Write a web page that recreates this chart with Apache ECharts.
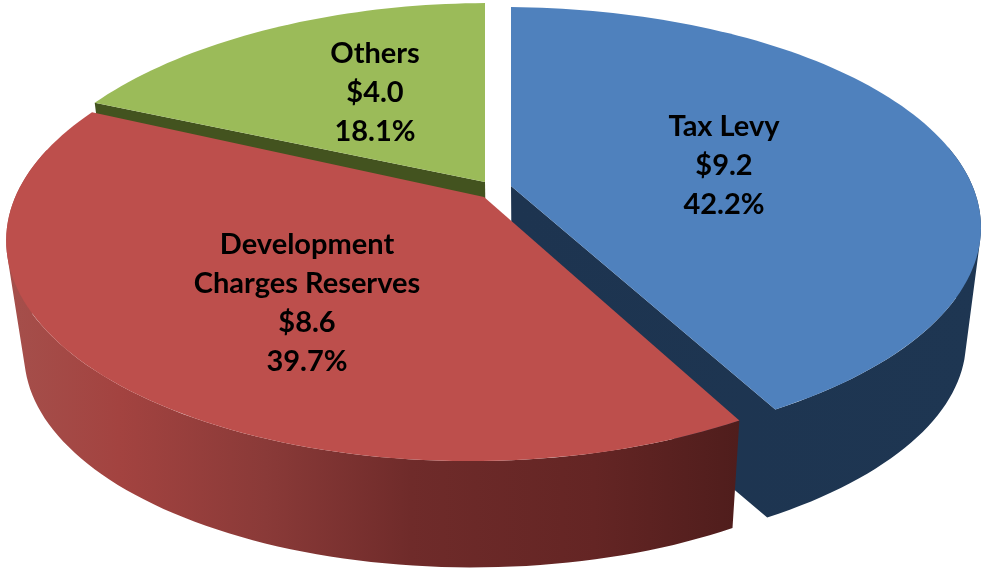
<!DOCTYPE html>
<html>
<head>
<meta charset="utf-8">
<script src="https://cdn.jsdelivr.net/npm/echarts@6/dist/echarts.min.js"></script>
<style>
  html, body { margin: 0; padding: 0; background: #fff; }
  #main { width: 981px; height: 570px; }
</style>
</head>
<body>
<div id="main"></div>
<script>
// values
const categories = ['Tax Levy', 'Development\nCharges Reserves', 'Others'];
const amounts = [9.2, 8.6, 4.0];
const shares = [42.2, 39.7, 18.1];

// how each slice is drawn, same order as categories
const apexes = [[511, 186], [484, 197], [485, 182]];
const radiiX = [473, 457, 455];
const shearY = [0, 0, -6.4];
const labelCentres = [[724, 166], [307, 303], [375, 93]];
const topColors = ['#4f81bd', '#bd4f4c', '#9bbb59'];
const paintOrder = [2, 3, 1];

// fake perspective of the tilted disc
const radiusY = 213.3;
const tilt = 0.192;
const tiltSide = 0.025;
// the lower rim is the upper rim shrunk towards a vanishing point
const depthScale = 0.966;
const depthVx = 538;
const depthDy = 122;

const wallColors = [
  new echarts.graphic.LinearGradient(0, 0, 1, 0, [
    { offset: 0, color: '#1d3450' },
    { offset: 1, color: '#1e3652' }
  ]),
  new echarts.graphic.LinearGradient(10, 0, 740, 0, [
    { offset: 0, color: '#a54f4b' },
    { offset: 0.15, color: '#a34340' },
    { offset: 0.35, color: '#8a3a38' },
    { offset: 0.55, color: '#6f2b2a' },
    { offset: 0.8, color: '#642524' },
    { offset: 1, color: '#4f1d1c' }
  ], true),
  '#43531f'
];

function topPoint(i, deg) {
  const a = deg * Math.PI / 180;
  const u = Math.sin(a);
  const v = -Math.cos(a);
  const d = 1 - tilt * v + tiltSide * u;
  return [
    apexes[i][0] + radiiX[i] * u / d,
    apexes[i][1] + (radiusY * v + shearY[i] * u) / d
  ];
}

function lowerPoint(p) {
  return [depthVx + depthScale * (p[0] - depthVx), depthScale * p[1] + depthDy];
}

// every quad is written with the same winding, otherwise overlaps cancel out
function quad(a, b, c, d) {
  const pts = [a, b, c, d];
  let area = 0;
  for (let n = 0; n < 4; n++) {
    const q = pts[(n + 1) % 4];
    area += pts[n][0] * q[1] - q[0] * pts[n][1];
  }
  if (area < 0) pts.reverse();
  const f = (p) => p[0].toFixed(1) + ' ' + p[1].toFixed(1);
  return 'M' + pts.map(f).join('L') + 'Z';
}

function renderSlice(params, api) {
  const i = params.dataIndex;
  const startDeg = api.value(0) * 3.6;
  const endDeg = api.value(1) * 3.6;
  const steps = Math.ceil((endDeg - startDeg) / 1.5);
  const arc = [];
  const arcDeg = [];
  for (let s = 0; s <= steps; s++) {
    arcDeg.push(startDeg + (endDeg - startDeg) * s / steps);
    arc.push(topPoint(i, arcDeg[s]));
  }
  const apex = apexes[i];
  // side wall and the cut faces go into one path so no seams show
  let wall = '';
  for (let s = 0; s < steps; s++) {
    // the back of the rim is hidden behind the top face anyway
    if (-Math.cos(arcDeg[s] * Math.PI / 180) < -0.2) continue;
    wall += quad(arc[s], arc[s + 1], lowerPoint(arc[s + 1]), lowerPoint(arc[s]));
  }
  // a cut face only shows when it is turned towards the viewer
  if (Math.sin(endDeg * Math.PI / 180) > 1e-6) {
    wall += quad(apex, arc[steps], lowerPoint(arc[steps]), lowerPoint(apex));
  }
  if (Math.sin(startDeg * Math.PI / 180) < -1e-6) {
    wall += quad(arc[0], apex, lowerPoint(apex), lowerPoint(arc[0]));
  }

  const top = [apex].concat(arc);
  const label = categories[i] + '\n$' + amounts[i].toFixed(1) + '\n' + shares[i].toFixed(1) + '%';
  return {
    type: 'group',
    children: [
      {
        type: 'path',
        z2: paintOrder[i],
        shape: { pathData: wall, layout: 'none' },
        style: { fill: wallColors[i] }
      },
      {
        type: 'polygon',
        z2: paintOrder[i],
        shape: { points: top },
        style: { fill: topColors[i] }
      },
      {
        type: 'text',
        z2: 10,
        x: labelCentres[i][0],
        y: labelCentres[i][1],
        style: {
          text: label,
          fill: '#000',
          font: 'bold 29px Lato',
          lineHeight: 39,
          align: 'center',
          verticalAlign: 'middle'
        }
      }
    ]
  };
}

// cumulative start and end of every slice in percent
let running = 0;
const sliceRows = shares.map((share) => {
  const row = [running, running + share];
  running += share;
  return row;
});

const myChart = echarts.init(document.getElementById('main'));
myChart.setOption({
  animation: false,
  backgroundColor: '#fff',
  series: [{
    type: 'custom',
    coordinateSystem: 'none',
    silent: true,
    renderItem: renderSlice,
    data: sliceRows
  }]
});
</script>
</body>
</html>
